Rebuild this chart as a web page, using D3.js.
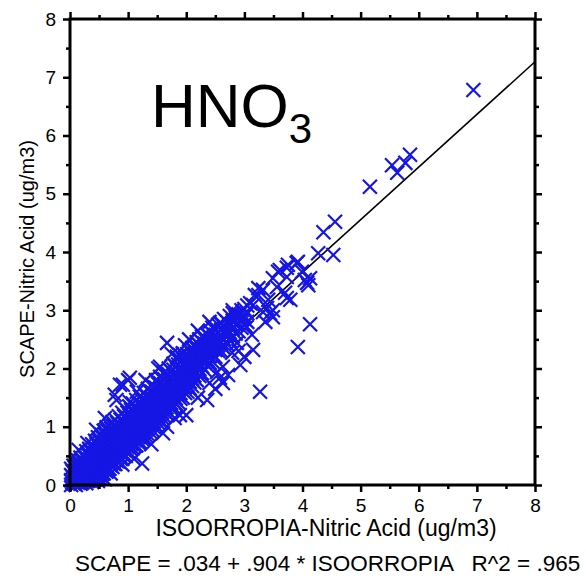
<!DOCTYPE html>
<html>
<head>
<meta charset="utf-8">
<script src="https://cdn.jsdelivr.net/npm/d3@7"></script>
<style>
body { margin: 0; background: #fff; }
text { font-family: "Liberation Sans", Arial, sans-serif; }
</style>
</head>
<body>
<svg width="586" height="581"></svg>
<script>
// DATA --------------------------------
var majorTicks = [0, 1, 2, 3, 4, 5, 6, 7, 8];
var minorTicks = [0.5, 1.5, 2.5, 3.5, 4.5, 5.5, 6.5, 7.5];
var fitIntercept = 0.034;
var fitSlope = 0.904;
var xTitle = "ISOORROPIA-Nitric Acid (ug/m3)";
var yTitle = "SCAPE-Nitric Acid (ug/m3)";
var fitText = "SCAPE = .034 + .904 * ISOORROPIA   R^2 = .965";

// dense band, read column by column: [isorropia, [scape values]]
var coreColumns = [
    [0.02, [0.0, 0.08, 0.17, 0.28]],
    [0.06, [0.03, 0.12, 0.22, 0.33]],
    [0.10, [0.0, 0.07, 0.15, 0.25, 0.38]],
    [0.14, [0.04, 0.11, 0.2, 0.3, 0.42]],
    [0.18, [0.02, 0.09, 0.17, 0.26, 0.35, 0.47]],
    [0.23, [0.06, 0.14, 0.22, 0.31, 0.4, 0.52]],
    [0.28, [0.03, 0.12, 0.2, 0.29, 0.37, 0.46, 0.58]],
    [0.33, [0.08, 0.17, 0.25, 0.34, 0.43, 0.52, 0.62]],
    [0.38, [0.05, 0.14, 0.23, 0.31, 0.4, 0.49, 0.57, 0.7]],
    [0.43, [0.1, 0.2, 0.28, 0.37, 0.45, 0.54, 0.63, 0.76]],
    [0.48, [0.07, 0.17, 0.26, 0.34, 0.43, 0.51, 0.6, 0.69, 0.82]],
    [0.53, [0.15, 0.24, 0.32, 0.41, 0.49, 0.58, 0.66, 0.75, 0.87]],
    [0.58, [0.2, 0.29, 0.38, 0.46, 0.55, 0.63, 0.72, 0.8, 0.93]],
    [0.63, [0.23, 0.33, 0.42, 0.5, 0.59, 0.68, 0.77, 0.86, 0.99]],
    [0.68, [0.28, 0.37, 0.46, 0.55, 0.64, 0.72, 0.81, 0.9, 1.02]],
    [0.73, [0.31, 0.41, 0.5, 0.59, 0.68, 0.77, 0.86, 0.95, 1.08]],
    [0.78, [0.36, 0.45, 0.54, 0.63, 0.72, 0.81, 0.9, 0.99, 1.12]],
    [0.84, [0.4, 0.5, 0.59, 0.68, 0.77, 0.86, 0.95, 1.04, 1.18]],
    [0.90, [0.45, 0.55, 0.64, 0.73, 0.82, 0.92, 1.0, 1.1, 1.24]],
    [0.96, [0.5, 0.6, 0.7, 0.79, 0.88, 0.97, 1.06, 1.15, 1.3]],
    [1.02, [0.56, 0.66, 0.75, 0.84, 0.93, 1.02, 1.11, 1.2, 1.35]],
    [1.08, [0.63, 0.72, 0.81, 0.9, 0.99, 1.08, 1.17, 1.27, 1.4]],
    [1.14, [0.68, 0.77, 0.86, 0.95, 1.04, 1.13, 1.22, 1.32, 1.46]],
    [1.20, [0.74, 0.83, 0.92, 1.01, 1.1, 1.19, 1.28, 1.38, 1.52]],
    [1.27, [0.8, 0.9, 0.99, 1.08, 1.17, 1.26, 1.35, 1.45, 1.58]],
    [1.34, [0.87, 0.97, 1.06, 1.15, 1.24, 1.33, 1.42, 1.52, 1.65]],
    [1.41, [0.95, 1.05, 1.14, 1.23, 1.32, 1.41, 1.5, 1.6, 1.72]],
    [1.48, [1.02, 1.12, 1.21, 1.3, 1.39, 1.48, 1.57, 1.67, 1.8]],
    [1.55, [1.1, 1.2, 1.29, 1.38, 1.47, 1.56, 1.65, 1.75, 1.86]],
    [1.62, [1.18, 1.28, 1.37, 1.46, 1.55, 1.63, 1.72, 1.82, 1.93]],
    [1.70, [1.25, 1.36, 1.45, 1.54, 1.63, 1.71, 1.8, 1.9, 2.0]],
    [1.78, [1.34, 1.44, 1.53, 1.62, 1.71, 1.8, 1.88, 1.98, 2.08]],
    [1.86, [1.42, 1.53, 1.62, 1.71, 1.8, 1.88, 1.97, 2.07, 2.17]],
    [1.94, [1.5, 1.62, 1.72, 1.81, 1.9, 1.98, 2.06, 2.16, 2.26]],
    [2.02, [1.6, 1.72, 1.82, 1.9, 1.98, 2.07, 2.15, 2.25]],
    [2.10, [1.7, 1.82, 1.92, 2.0, 2.08, 2.16, 2.25, 2.35]],
    [2.18, [1.8, 1.93, 2.02, 2.1, 2.18, 2.26, 2.34, 2.45]],
    [2.27, [1.92, 2.04, 2.13, 2.2, 2.28, 2.36, 2.45, 2.55]],
    [2.36, [2.05, 2.15, 2.23, 2.31, 2.39, 2.47, 2.58]],
    [2.45, [2.12, 2.25, 2.33, 2.42, 2.5, 2.6, 2.7]],
    [2.55, [2.3, 2.4, 2.5, 2.62, 2.75]],
    [2.65, [2.35, 2.5, 2.6, 2.72, 2.85]],
    [2.75, [2.48, 2.62, 2.75, 2.9]],
    [2.85, [2.6, 2.75, 2.88]],
    [2.95, [2.7, 2.85, 3.0]],
    [3.05, [2.8, 2.95, 3.08]]
];

// second pass over the band, between the first columns
var fillColumns = [
    [0.04, [0.05, 0.14, 0.24]],
    [0.08, [0.02, 0.1, 0.19, 0.3]],
    [0.12, [0.05, 0.13, 0.22, 0.33]],
    [0.16, [0.07, 0.15, 0.24, 0.37]],
    [0.205, [0.04, 0.12, 0.2, 0.29, 0.41]],
    [0.255, [0.09, 0.17, 0.26, 0.35, 0.47]],
    [0.305, [0.07, 0.16, 0.24, 0.33, 0.42, 0.52]],
    [0.355, [0.12, 0.21, 0.29, 0.38, 0.47, 0.57]],
    [0.405, [0.1, 0.18, 0.27, 0.36, 0.44, 0.53, 0.64]],
    [0.455, [0.14, 0.23, 0.32, 0.41, 0.5, 0.59, 0.7]],
    [0.505, [0.12, 0.21, 0.3, 0.38, 0.47, 0.55, 0.64, 0.75]],
    [0.555, [0.19, 0.28, 0.36, 0.45, 0.53, 0.62, 0.7, 0.81]],
    [0.605, [0.25, 0.33, 0.42, 0.5, 0.59, 0.67, 0.76, 0.86]],
    [0.655, [0.28, 0.37, 0.46, 0.55, 0.63, 0.72, 0.81, 0.92]],
    [0.705, [0.33, 0.42, 0.5, 0.59, 0.68, 0.77, 0.86, 0.97]],
    [0.755, [0.36, 0.45, 0.54, 0.63, 0.72, 0.81, 0.9, 1.02]],
    [0.81, [0.41, 0.5, 0.59, 0.68, 0.77, 0.86, 0.95, 1.07]],
    [0.87, [0.45, 0.55, 0.64, 0.73, 0.82, 0.91, 1.0, 1.12]],
    [0.93, [0.5, 0.6, 0.69, 0.78, 0.87, 0.96, 1.05, 1.18]],
    [0.99, [0.55, 0.65, 0.74, 0.84, 0.93, 1.02, 1.11, 1.24]],
    [1.05, [0.61, 0.71, 0.8, 0.89, 0.98, 1.07, 1.16, 1.29]],
    [1.11, [0.67, 0.77, 0.86, 0.95, 1.04, 1.13, 1.23, 1.35]],
    [1.17, [0.73, 0.82, 0.91, 1.0, 1.09, 1.18, 1.28, 1.41]],
    [1.235, [0.79, 0.88, 0.97, 1.06, 1.15, 1.24, 1.34, 1.47]],
    [1.305, [0.85, 0.95, 1.04, 1.13, 1.22, 1.31, 1.4, 1.53]],
    [1.375, [0.92, 1.02, 1.11, 1.2, 1.29, 1.38, 1.47, 1.6]],
    [1.445, [0.99, 1.09, 1.18, 1.27, 1.36, 1.45, 1.54, 1.67]],
    [1.515, [1.07, 1.17, 1.26, 1.35, 1.44, 1.53, 1.62, 1.74]],
    [1.585, [1.15, 1.25, 1.34, 1.43, 1.52, 1.61, 1.7, 1.81]],
    [1.66, [1.23, 1.33, 1.42, 1.51, 1.6, 1.68, 1.77, 1.88]],
    [1.74, [1.31, 1.41, 1.5, 1.59, 1.67, 1.76, 1.85, 1.95]],
    [1.82, [1.4, 1.49, 1.58, 1.67, 1.76, 1.84, 1.93, 2.03]],
    [1.90, [1.48, 1.58, 1.67, 1.76, 1.85, 1.93, 2.02, 2.12]],
    [1.98, [1.58, 1.68, 1.77, 1.86, 1.94, 2.03, 2.11, 2.2]],
    [2.06, [1.66, 1.77, 1.87, 1.95, 2.04, 2.12, 2.2, 2.3]],
    [2.14, [1.76, 1.88, 1.97, 2.05, 2.13, 2.21, 2.3, 2.4]],
    [2.225, [1.87, 1.99, 2.08, 2.16, 2.24, 2.32, 2.4, 2.5]],
    [2.315, [1.98, 2.1, 2.19, 2.27, 2.35, 2.43, 2.52]],
    [2.405, [2.1, 2.21, 2.29, 2.37, 2.45, 2.55, 2.64]],
    [2.50, [2.2, 2.32, 2.41, 2.49, 2.58, 2.68]],
    [2.60, [2.3, 2.44, 2.55, 2.66, 2.78]],
    [2.70, [2.42, 2.56, 2.68, 2.8]],
    [2.80, [2.55, 2.68, 2.82]],
    [2.90, [2.64, 2.78, 2.93]],
    [3.00, [2.75, 2.9, 3.02]]
];

// scattered crosses outside the band: [isorropia, scape]
var loosePoints = [
    [0.15, 0.6], [0.3, 0.72], [0.45, 0.95], [0.6, 1.15], [0.77, 1.55],
    [0.8, 1.46], [0.86, 1.72], [0.91, 1.72], [1.0, 1.8], [1.03, 1.84],
    [1.03, 1.42], [1.15, 1.6], [1.3, 1.8], [1.52, 2.0], [1.55, 2.03],
    [1.67, 2.44], [1.75, 2.25], [1.84, 2.2], [1.89, 2.23], [1.98, 2.4],
    [2.05, 2.5], [2.2, 2.65], [2.4, 2.8],
    [0.6, 0.1], [0.7, 0.2], [0.9, 0.35], [1.1, 0.45], [1.24, 0.37],
    [1.43, 1.06], [1.4, 0.7], [1.6, 0.89], [1.67, 1.0], [1.8, 1.15],
    [1.89, 1.2], [2.0, 1.2], [2.2, 1.5], [2.36, 1.46], [2.4, 1.75],
    [2.5, 1.65], [2.53, 1.94], [2.58, 1.84], [2.63, 1.75], [2.63, 2.03],
    [2.72, 1.89], [2.7, 2.6], [2.79, 2.27], [2.87, 2.44], [2.93, 2.06],
    [2.9, 2.3], [3.0, 2.2], [3.15, 2.32], [3.13, 2.58], [3.27, 1.6],
    [2.58, 2.78], [2.8, 2.95], [2.87, 2.92], [2.8, 3.0], [2.98, 2.88],
    [3.04, 2.71], [3.1, 3.12], [3.15, 3.09], [3.18, 3.26], [3.24, 3.26],
    [3.24, 3.38], [3.32, 3.35], [3.32, 2.97], [3.36, 2.8], [3.39, 3.04],
    [3.41, 3.18], [3.44, 2.95], [3.49, 2.88], [3.49, 3.0], [3.49, 3.55],
    [3.56, 3.4], [3.58, 3.66], [3.61, 3.69], [3.7, 3.3], [3.73, 3.21],
    [3.73, 3.57], [3.73, 3.73], [3.75, 3.78], [3.79, 3.18], [3.9, 3.81],
    [3.92, 3.83], [3.99, 3.66], [4.04, 3.52], [4.08, 3.47], [4.1, 3.43],
    [4.13, 3.55], [3.92, 2.37], [4.13, 2.76], [4.27, 3.98], [4.36, 4.34],
    [4.53, 3.95], [4.56, 4.52], [5.16, 5.12], [5.54, 5.49], [5.63, 5.36],
    [5.77, 5.53], [5.85, 5.67], [6.94, 6.78]
];

// SVG PARAMETERS ----------------------
var svg = d3.select("svg");
var padLeft = 70, padRight = 535, padTop = 19, padBottom = 485;
var blue = "#1616e4";

var x = d3.scaleLinear().domain([0, 8]).range([padLeft, padRight]);
var y = d3.scaleLinear().domain([0, 8]).range([padBottom, padTop]);

var points = [];
coreColumns.concat(fillColumns).forEach(function(c) {
    c[1].forEach(function(v) { points.push([c[0], v]); });
});
points = points.concat(loosePoints);

// FIT LINE (under the crosses)
svg.append("line")
    .attr("x1", x(0)).attr("y1", y(fitIntercept))
    .attr("x2", x(8)).attr("y2", y(fitIntercept + fitSlope * 8))
    .attr("stroke", "#000")
    .attr("stroke-width", 1.6);

// POINTS
var s = 7;
svg.append("g")
    .selectAll("path")
    .data(points)
    .enter().append("path")
    .attr("d", function(d) {
	var px = x(d[0]), py = y(d[1]);
	return "M" + (px - s) + "," + (py - s) + "L" + (px + s) + "," + (py + s) +
	    "M" + (px - s) + "," + (py + s) + "L" + (px + s) + "," + (py - s);
    })
    .attr("stroke", blue)
    .attr("stroke-width", 2.2)
    .attr("fill", "none");

// AXES
function addAxis(axis, tx, ty, values, size, labels) {
    var g = svg.append("g")
	.attr("transform", "translate(" + tx + "," + ty + ")")
	.call(axis.tickValues(values).tickSize(size).tickPadding(7)
	      .tickFormat(labels ? d3.format("d") : ""));
    g.select(".domain").remove();
    g.selectAll("line").attr("stroke", "#000").attr("stroke-width", 2.5);
    g.selectAll("text")
	.style("font-size", "19px")
	.style("font-family", "'Liberation Sans', Arial, sans-serif")
	.attr("fill", "#000");
    return g;
}
addAxis(d3.axisLeft(y), padLeft, 0, majorTicks, 7, true);
addAxis(d3.axisLeft(y), padLeft, 0, minorTicks, 4, false);
addAxis(d3.axisBottom(x), 0, padBottom, majorTicks, 7, true);
addAxis(d3.axisBottom(x), 0, padBottom, minorTicks, 4, false);
addAxis(d3.axisTop(x), 0, padTop, majorTicks, 7, false);
addAxis(d3.axisTop(x), 0, padTop, minorTicks, 4, false);
addAxis(d3.axisRight(y), padRight, 0, majorTicks, 7, false);
addAxis(d3.axisRight(y), padRight, 0, minorTicks, 4, false);

svg.append("rect")
    .attr("x", padLeft).attr("y", padTop)
    .attr("width", padRight - padLeft).attr("height", padBottom - padTop)
    .attr("fill", "none")
    .attr("stroke", "#000")
    .attr("stroke-width", 3);

// TEXTS
var title = svg.append("text")
    .attr("x", 151).attr("y", 127)
    .style("font-size", "62px");
title.append("tspan").text("HNO");
title.append("tspan").attr("dy", 16).style("font-size", "42px").text("3");

svg.append("text")
    .attr("x", 326).attr("y", 536)
    .attr("text-anchor", "middle")
    .style("font-size", "23px")
    .text(xTitle);

svg.append("text")
    .attr("transform", "translate(34,259) rotate(-90)")
    .attr("text-anchor", "middle")
    .style("font-size", "20px")
    .text(yTitle);

svg.append("text")
    .attr("x", 75).attr("y", 571)
    .style("font-size", "22.5px")
    .style("white-space", "pre")
    .attr("xml:space", "preserve")
    .text(fitText);
</script>
</body>
</html>
